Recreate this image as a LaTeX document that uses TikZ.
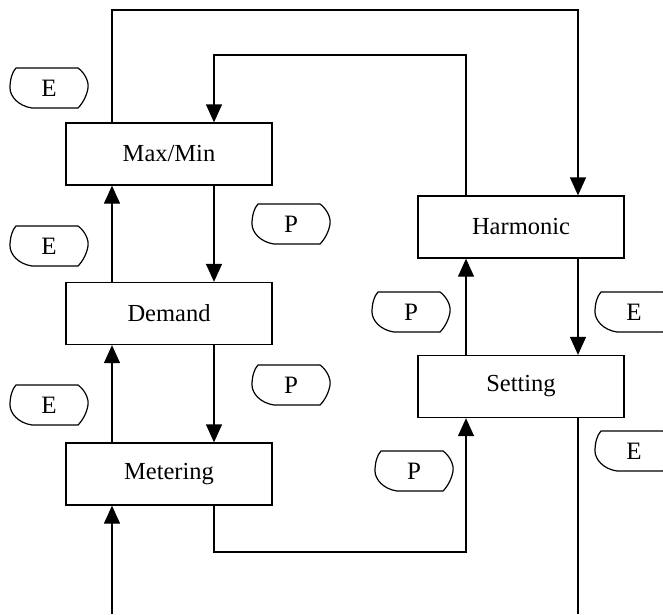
\documentclass[tikz,border=0pt]{standalone}
\usepackage{fontspec}
\setmainfont{Liberation Serif}
\usetikzlibrary{arrows.meta}
\tikzset{
  box/.style={draw, line width=1.3pt, minimum width=206pt, minimum height=62pt, inner sep=0pt, font=\fontsize{24.5}{28}\selectfont},
  conn/.style={line width=1.3pt},
  arr/.style={conn, -{Triangle[width=16pt,length=18pt]}},
  keytext/.style={inner sep=0pt, font=\fontsize{25}{28}\selectfont},
  keybtn/.pic={
    \draw[line width=1.2pt] (-33,-20) -- (29,-20) .. controls (36,-15) and (40,-6) .. (39,0)
      .. controls (38,7) and (34,15) .. (29,20) -- (-17,20)
      .. controls (-31,18) and (-39,8) .. (-39,0)
      .. controls (-39,-8) and (-37,-16) .. (-33,-20) -- cycle;
    \node[keytext] (-t) at (0,0) {#1};
  }
}
\begin{document}
\begin{tikzpicture}[x=1pt,y=-1pt]
\useasboundingbox (0,0) rectangle (663,614);
\clip (0,0) rectangle (663,614);
% columns and levels
\coordinate (cL) at (112,0);
\coordinate (cR) at (214,0);
\coordinate (hL) at (466,0);
\coordinate (hR) at (578,0);
\coordinate (t1) at (0,10);
\coordinate (t2) at (0,55);
\coordinate (t3) at (0,552);
\coordinate (b1) at (112,614);
\coordinate (b2) at (578,614);
% boxes
\node[box] (mm) at (169,154) {Max/Min};
\node[box] (dm) at (169,313.5) {Demand};
\node[box] (mt) at (169,474) {Metering};
\node[box] (hm) at (521,227) {Harmonic};
\node[box] (st) at (521,386.5) {Setting};
% keys
\pic (e1) at (49,88) {keybtn=E};
\pic (e2) at (49,246) {keybtn=E};
\pic (e3) at (49,405) {keybtn=E};
\pic (p1) at (291,224) {keybtn=P};
\pic (p2) at (291,385) {keybtn=P};
\pic (p3) at (411,312) {keybtn=P};
\pic (p4) at (414,471) {keybtn=P};
\pic (e4) at (634,312) {keybtn=E};
\pic (e5) at (634,451) {keybtn=E};
% connectors
\draw[arr] (mm.north -| cL) -- (cL |- t1) -| (hm.north -| hR);
\draw[arr] (hm.north -| hL) -- (hL |- t2) -| (mm.north -| cR);
\draw[arr] (mm.south -| cR) -- (dm.north -| cR);
\draw[arr] (dm.south -| cR) -- (mt.north -| cR);
\draw[arr] (mt.north -| cL) -- (dm.south -| cL);
\draw[arr] (dm.north -| cL) -- (mm.south -| cL);
\draw[arr] (b1) -- (mt.south -| cL);
\draw[arr] (mt.south -| cR) -- (cR |- t3) -| (st.south -| hL);
\draw[arr] (st.north -| hL) -- (hm.south -| hL);
\draw[arr] (hm.south -| hR) -- (st.north -| hR);
\draw[conn] (st.south -| hR) -- (b2);
\end{tikzpicture}
\end{document}
